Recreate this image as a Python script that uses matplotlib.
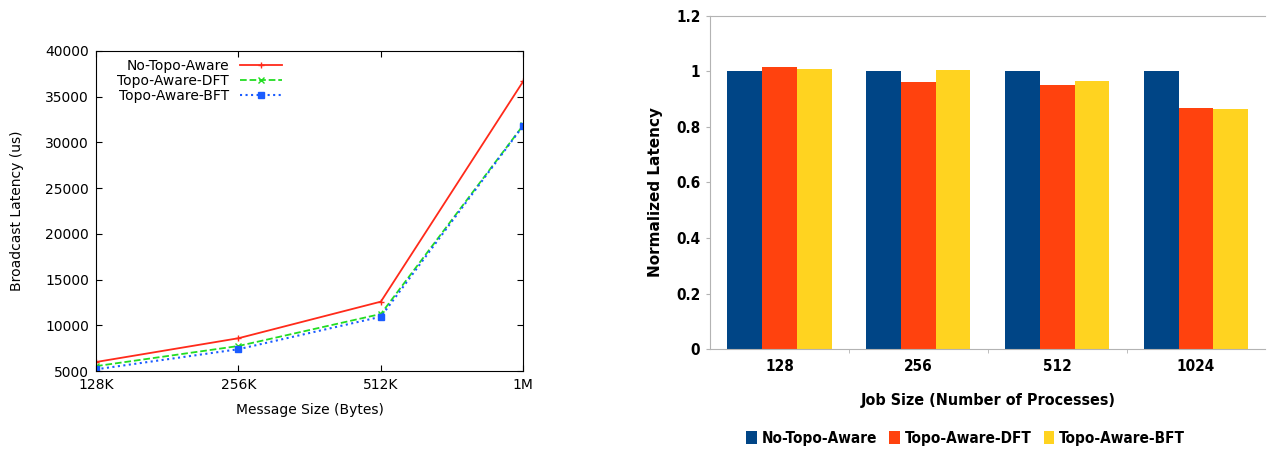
import numpy as np
import matplotlib.pyplot as plt

# Left panel: broadcast latency vs message size
msg_sizes = ["128K", "256K", "512K", "1M"]
no_topo = [6000, 8600, 12600, 36700]
topo_dft = [5550, 7750, 11250, 31900]
topo_bft = [5200, 7400, 10950, 31850]

# Right panel: normalized latency vs job size
job_sizes = ["128", "256", "512", "1024"]
norm_no_topo = [1.0, 1.0, 1.0, 1.0]
norm_dft = [1.015, 0.963, 0.952, 0.868]
norm_bft = [1.008, 1.004, 0.965, 0.865]

series_names = ["No-Topo-Aware", "Topo-Aware-DFT", "Topo-Aware-BFT"]

fig = plt.figure(figsize=(12.68, 4.51), dpi=100)

# ---- left: gnuplot-style line chart
ax1 = fig.add_axes([0.0757, 0.177, 0.337, 0.71])
x = np.arange(len(msg_sizes))
ax1.plot(x, no_topo, '-', color='#ff2a1a', lw=1.3, marker='+', ms=5, label=series_names[0])
ax1.plot(x, topo_dft, '--', color='#22dd22', lw=1.3, marker='x', ms=4, label=series_names[1])
ax1.plot(x, topo_bft, ':', color='#1a5cff', lw=1.5, marker='s', ms=4, label=series_names[2])
ax1.set_xlim(0, 3)
ax1.set_ylim(5000, 40000)
ax1.set_xticks(x)
ax1.set_xticklabels(msg_sizes)
ax1.set_yticks(np.arange(5000, 40001, 5000))
ax1.tick_params(direction='in', top=True, right=True, labelsize=10, length=4, pad=5)
ax1.set_xlabel("Message Size (Bytes)", fontsize=10, labelpad=8)
ax1.set_ylabel("Broadcast Latency (us)", fontsize=10, labelpad=15)
ax1.legend(loc='upper left', markerfirst=False, frameon=False, fontsize=10,
           handlelength=3.0, handletextpad=0.8, borderaxespad=0.2, labelspacing=0.05,
           bbox_to_anchor=(0.03, 1.0))

# ---- right: grouped bar chart
cond = dict(family='DejaVu Sans', stretch='condensed', weight='bold')
ax2 = fig.add_axes([0.56, 0.226, 0.438, 0.739])
colors = ['#004586', '#ff420e', '#ffd320']
w = 0.25
gx = np.arange(len(job_sizes))
for i, (vals, c, name) in enumerate(zip([norm_no_topo, norm_dft, norm_bft], colors, series_names)):
    ax2.bar(gx + (i - 1) * w, vals, width=w, color=c, label=name)
ax2.set_xlim(-0.5, 3.5)
ax2.set_ylim(0, 1.2)
ax2.set_yticks(np.arange(0, 1.21, 0.2))
ax2.set_yticklabels(["0", "0.2", "0.4", "0.6", "0.8", "1", "1.2"])
ax2.set_xticks(gx)
ax2.set_xticklabels(job_sizes)
ax2.set_xticks(np.arange(0.5, 3.5, 1), minor=True)
ax2.tick_params(axis='x', which='major', length=0, pad=7)
ax2.tick_params(axis='x', which='minor', length=3, color='#b3b3b3')
ax2.tick_params(axis='y', length=3, color='#b3b3b3', pad=4)
for lbl in ax2.get_xticklabels() + ax2.get_yticklabels():
    lbl.set_family(cond['family'])
    lbl.set_stretch(cond['stretch'])
    lbl.set_fontweight('bold')
    lbl.set_fontsize(11)
for s in ['top', 'left', 'bottom']:
    ax2.spines[s].set_color('#b3b3b3')
ax2.spines['right'].set_visible(False)
ax2.set_ylabel("Normalized Latency", fontsize=11, fontweight='bold')
ax2.yaxis.set_label_coords(-0.085, 0.47)
ax2.set_xlabel("Job Size (Number of Processes)", fontsize=11.5, labelpad=14, **cond)
ax2.legend(loc='center', bbox_to_anchor=(0.46, -0.268), ncol=3, frameon=False,
           prop=dict(size=11, **cond),
           handlelength=0.7, handleheight=0.9, handletextpad=0.3, columnspacing=0.8)

fig.savefig("out.png", dpi=100)
